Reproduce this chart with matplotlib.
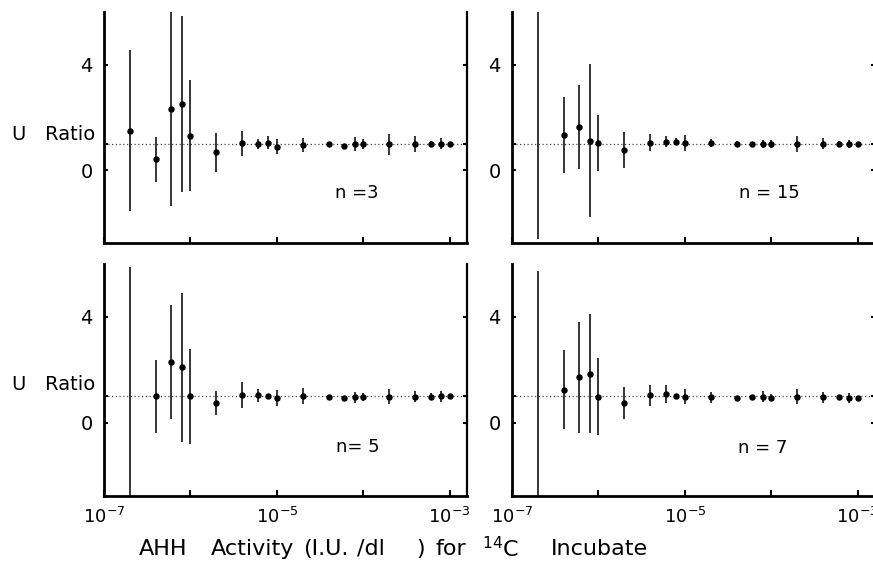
import numpy as np
import matplotlib
matplotlib.use("Agg")
import matplotlib.pyplot as plt

plt.rcParams['font.family'] = ['DejaVu Sans']
plt.rcParams['mathtext.fontset'] = 'dejavusans'

# AHH activity (I.U./dl) dilution series, same in all panels
activity = [2e-7, 4e-7, 6e-7, 8e-7, 1e-6, 2e-6, 4e-6, 6e-6, 8e-6, 1e-5,
            2e-5, 4e-5, 6e-5, 8e-5, 1e-4, 2e-4, 4e-4, 6e-4, 8e-4, 1e-3]

# U ratio values and error half-widths (tuple = (lower, upper))
ratio_n3 = [1.49, 0.41, 2.32, 2.51, 1.30, 0.67, 1.02, 0.99, 1.04, 0.89,
            0.95, 0.98, 0.93, 0.99, 0.98, 0.98, 0.98, 0.99, 1.00, 1.00]
err_n3 = [3.05, 0.85, 3.70, 3.35, 2.10, 0.75, 0.47, 0.20, 0.25, 0.28,
          0.25, 0.05, 0.05, 0.25, 0.20, 0.40, 0.30, 0.12, 0.20, 0.05]

ratio_n15 = [1.00, 1.33, 1.63, 1.12, 1.04, 0.76, 1.04, 1.08, 1.08, 1.02,
             1.02, 0.99, 0.99, 1.00, 1.00, 1.00, 1.00, 1.00, 0.99, 1.00]
err_n15 = [(3.6, 6.0), 1.45, 1.60, 2.90, 1.06, 0.70, 0.33, 0.22, 0.12, 0.30,
           0.15, 0.10, 0.08, 0.15, 0.15, 0.30, 0.20, 0.12, 0.15, 0.05]

ratio_n5 = [1.00, 1.00, 2.29, 2.09, 1.00, 0.75, 1.05, 1.03, 1.00, 0.93,
            1.00, 0.96, 0.93, 0.96, 0.96, 0.99, 0.99, 0.99, 1.00, 1.00]
err_n5 = [(6.0, 4.9), 1.37, 2.15, 2.80, 1.80, 0.45, 0.50, 0.25, 0.05, 0.30,
          0.30, 0.05, 0.05, 0.20, 0.15, 0.30, 0.20, 0.12, 0.20, 0.05]

ratio_n7 = [1.00, 1.25, 1.71, 1.85, 0.99, 0.75, 1.03, 1.09, 1.00, 0.99,
            0.96, 0.94, 0.96, 0.99, 0.95, 0.99, 0.96, 0.96, 0.94, 0.94]
err_n7 = [(6.0, 4.72), 1.50, 2.10, 2.25, 1.45, 0.60, 0.40, 0.35, 0.10, 0.30,
          0.20, 0.05, 0.05, 0.20, 0.12, 0.30, 0.20, 0.05, 0.20, 0.05]

# points whose mean marker is not visible (only the bar is drawn)
hidden_dots = [[], [0], [0], [0]]

panel_labels = ["n =3", "n = 15", "n= 5", "n = 7"]
y_ticks = [0, 1, 4]
y_ticklabels = ["0", "", "4"]
x_ticks = [1e-7, 1e-6, 1e-5, 1e-4, 1e-3]
x_ticklabels = [r"$10^{-7}$", "", r"$10^{-5}$", "", r"$10^{-3}$"]
reference_ratio = 1.0
xlabel_words = ["AHH", "Activity", "(I.U.", "/dl", ")", "for", "$^{14}$C", "Incubate"]

W, H = 873, 566
fig = plt.figure(figsize=(W / 100, H / 100), dpi=100)

def px_axes(left, right, top, bottom):
    return fig.add_axes([left / W, 1 - bottom / H, (right - left) / W, (bottom - top) / H])

axes = [px_axes(104, 467, 12, 243), px_axes(512, 875, 12, 243),
        px_axes(104, 467, 264, 496), px_axes(512, 875, 264, 496)]
series = [(ratio_n3, err_n3), (ratio_n15, err_n15), (ratio_n5, err_n5), (ratio_n7, err_n7)]
label_pos = [(357, 193), (769, 193), (358, 447), (763, 448)]

for i, (ax, (vals, errs)) in enumerate(zip(axes, series)):
    lo = [e[0] if isinstance(e, tuple) else e for e in errs]
    hi = [e[1] if isinstance(e, tuple) else e for e in errs]
    ax.set_xscale('log')
    ax.set_xlim(1e-7, 10 ** -2.8)
    ax.set_ylim(-2.77, 6.0)
    ax.axhline(reference_ratio, color='#444444', lw=0.9, ls=(0, (1, 2)), zorder=1)
    ax.errorbar(activity, vals, yerr=[lo, hi], fmt='none', ecolor='black',
                elinewidth=1.1, capsize=0, zorder=3)
    shown = [j for j in range(len(activity)) if j not in hidden_dots[i]]
    ax.plot(activity, vals, 'o', color='black', ms=3.6, markevery=shown, zorder=4)
    ax.spines['top'].set_visible(False)
    ax.spines['left'].set_linewidth(2.0)
    ax.spines['bottom'].set_linewidth(2.0)
    ax.spines['right'].set_linewidth(1.6)
    ax.set_yticks(y_ticks)
    ax.set_yticklabels(y_ticklabels)
    ax.tick_params(axis='y', direction='in', length=3, width=1.5, right=True,
                   labelsize=14, pad=8)
    ax.set_xticks(x_ticks)
    ax.xaxis.set_minor_locator(matplotlib.ticker.NullLocator())
    ax.tick_params(axis='x', direction='in', length=4, width=1.5, labelsize=13, pad=8)
    if i >= 2:
        ax.set_xticklabels(x_ticklabels)
    else:
        ax.set_xticklabels([""] * len(x_ticks))
    ax.patch.set_alpha(0)
    lx, ly = label_pos[i]
    fig.text(lx / W, 1 - ly / H, panel_labels[i], ha='center', va='center', fontsize=13)

fig.text(95 / W, 1 - 134 / H, "U   Ratio", ha='right', va='center', fontsize=14)
fig.text(95 / W, 1 - 384 / H, "U   Ratio", ha='right', va='center', fontsize=14)

word_starts = [139, 211, 303, 357, 416, 436, 482, 551]
for word, x0 in zip(xlabel_words, word_starts):
    fig.text(x0 / W, 1 - 549 / H, word, ha='left', va='center', fontsize=16)

fig.savefig("out.png", dpi=100)
